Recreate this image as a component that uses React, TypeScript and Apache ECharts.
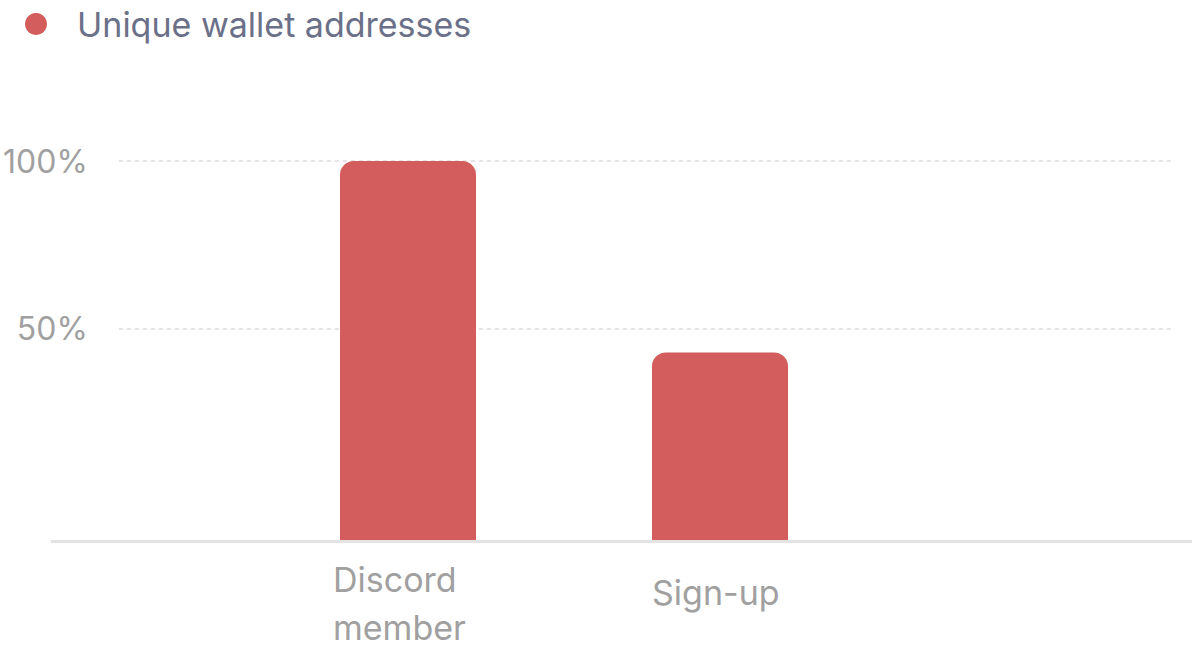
import React, { useEffect, useRef } from "react";
import * as echarts from "echarts";

const seriesName = "Unique wallet addresses";
const categories = ["Discord member", "Sign-up"];
const values = [100, 43];
const yTickValues = [50, 100];
const yMin = -12.8;
const yMax = 100;

const BAR_COLOR = "#d35d5c";
const FONT = "Inter, 'Noto Sans', sans-serif";

export default function App() {
  const ref = useRef<HTMLDivElement>(null);
  useEffect(() => {
    if (!ref.current) return;
    const chart = echarts.init(ref.current, undefined, { renderer: "svg" });
    const data = values.map((v, i) => [i, v]);
    const option: any = {
      animation: false,
      color: [BAR_COLOR],
      textStyle: { fontFamily: FONT },
      legend: {
        show: true,
        left: 20,
        top: 2,
        icon: "circle",
        itemWidth: 22,
        itemHeight: 22,
        data: [seriesName],
        textStyle: { color: "#6b7089", fontSize: 34, fontFamily: FONT, padding: [0, 0, 0, 25] },
      },
      grid: [
        { left: 100, right: 17, top: 161, bottom: 112 },
        { left: 52, right: 0, top: 161, bottom: 110.5 },
        { left: 252, right: 316, top: 161, bottom: 112 },
      ],
      xAxis: [
        { type: "category", gridIndex: 0, show: false, data: categories },
        {
          type: "category",
          gridIndex: 1,
          data: categories,
          axisLine: { show: true, onZero: false, lineStyle: { color: "#e3e3e3", width: 3 } },
          axisTick: { show: false },
          axisLabel: { show: false },
        },
        {
          type: "category",
          gridIndex: 2,
          data: categories,
          axisLine: { show: false, onZero: false },
          axisTick: { show: false },
          axisLabel: {
            margin: 15,
            color: "#a0a0a0",
            fontSize: 34,
            fontFamily: FONT,
            formatter: (v: string) => {
              const parts = v.split(" ");
              if (parts.length === 1) return `{b|${v}}`;
              return parts.map((p) => `{a|${p}}`).join("\n");
            },
            rich: {
              a: { width: 150, align: "left", lineHeight: 48, fontSize: 34, color: "#a0a0a0", fontFamily: FONT },
              b: { width: 136, align: "left", lineHeight: 74, fontSize: 34, color: "#a0a0a0", fontFamily: FONT },
            },
          },
        },
      ],
      yAxis: [
        {
          type: "value",
          gridIndex: 0,
          min: yMin,
          max: yMax,
          axisLine: { show: false },
          axisTick: { show: false, customValues: yTickValues },
          axisLabel: {
            customValues: yTickValues,
            margin: 31,
            color: "#a0a0a0",
            fontSize: 32,
            fontFamily: FONT,
            formatter: (v: number) => `${v}%`,
          },
          splitLine: { show: true, lineStyle: { color: "#dcdcdc", width: 1.5, type: [4, 4] } },
        },
        { type: "value", gridIndex: 1, min: yMin, max: yMax, show: false, splitLine: { show: false } },
        { type: "value", gridIndex: 2, min: yMin, max: yMax, show: false, splitLine: { show: false } },
      ],
      series: [
        {
          name: seriesName,
          type: "custom",
          xAxisIndex: 2,
          yAxisIndex: 2,
          data,
          encode: { x: 0, y: 1 },
          renderItem: (params: any, api: any) => {
            const idx = api.value(0);
            const val = api.value(1);
            const top = api.coord([idx, val]);
            const band = api.size([1, 0])[0];
            const w = band * 0.436;
            const bottom = params.coordSys.y + params.coordSys.height;
            return {
              type: "rect",
              shape: { x: top[0] - w / 2, y: top[1], width: w, height: bottom - top[1], r: [14, 14, 0, 0] },
              style: { fill: api.visual("color") },
            };
          },
        },
      ],
    };
    chart.setOption(option);
    return () => chart.dispose();
  }, []);
  return <div ref={ref} style={{ position: "absolute", left: 0, top: 0, width: 1192, height: 652 }} />;
}
